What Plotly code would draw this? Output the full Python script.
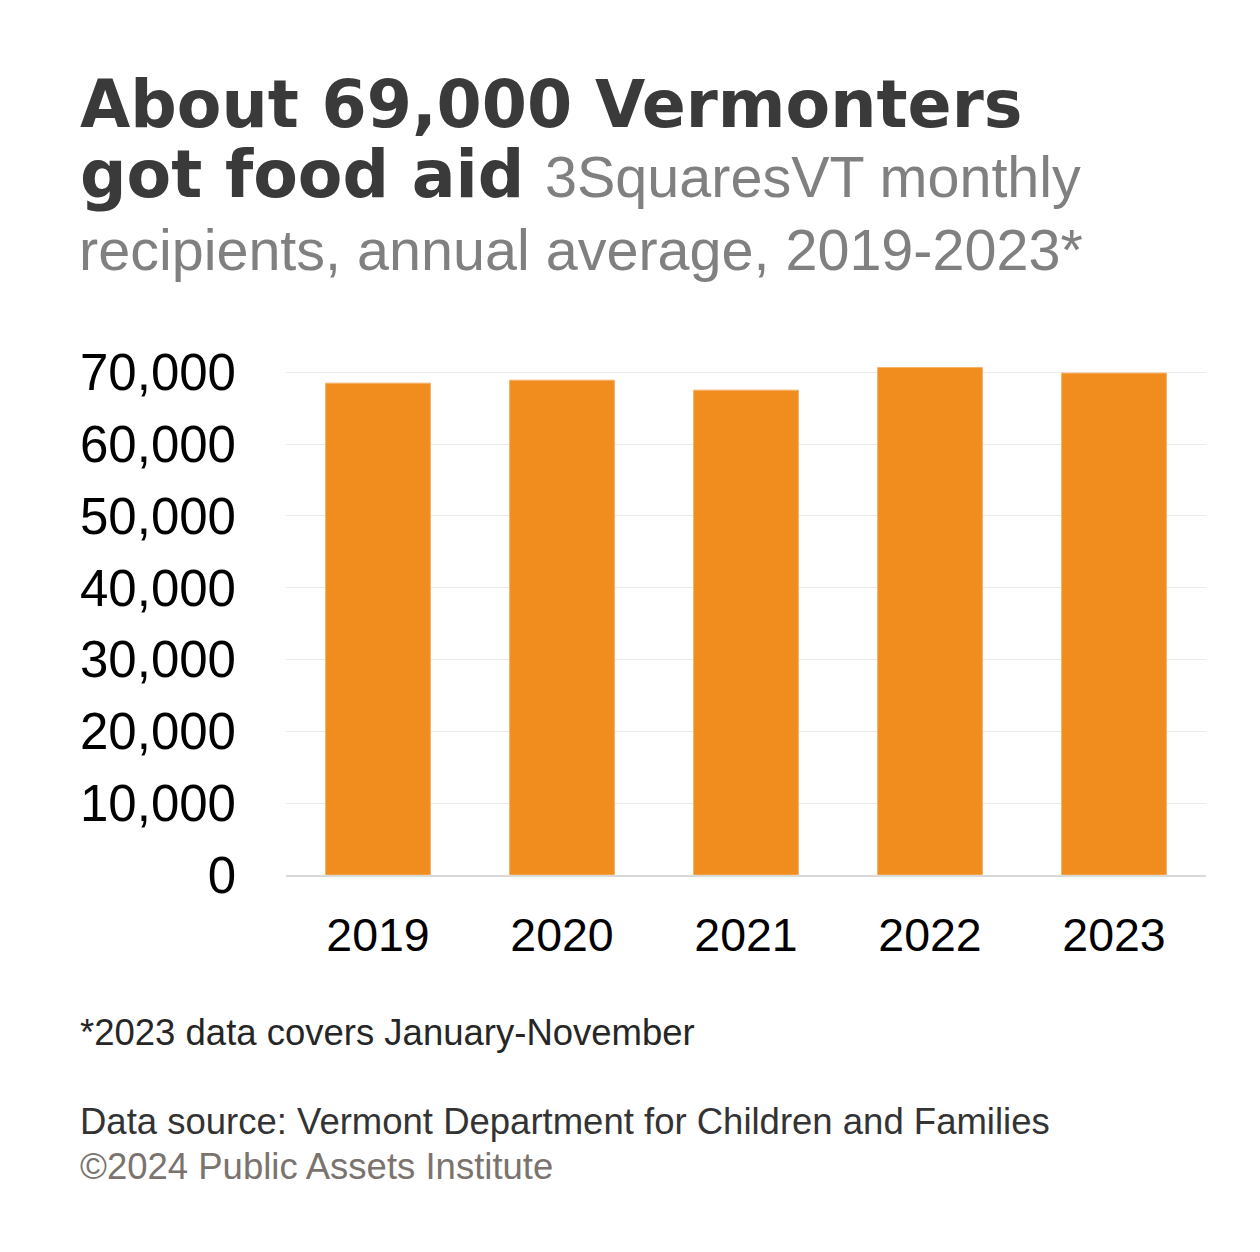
import plotly.graph_objects as go

years = ["2019", "2020", "2021", "2022", "2023"]
recipients = [68470, 68890, 67500, 70650, 69870]
y_ticks = [0, 10000, 20000, 30000, 40000, 50000, 60000, 70000]
y_tick_labels = ["0", "10,000", "20,000", "30,000", "40,000", "50,000", "60,000", "70,000"]

OFF = 8  # page body margin
W, H = 1260 - 2 * OFF, 1252 - 2 * OFF
L, R, T, B = 286 - OFF, 1206 - OFF, 365 - OFF, 875 - OFF

def px(x):
    return (x - OFF - L) / (R - L)

def py(y):
    return (B - (y - OFF)) / (B - T)

fig = go.Figure()
fig.add_trace(go.Bar(
    x=years, y=recipients,
    marker=dict(color="#F18D1F", line=dict(color="#F6B26B", width=1)),
    hoverinfo="x+y",
))

TITLE_FONT = "DejaVu Sans"
BODY_FONT = "Liberation Sans, Arial, sans-serif"

annotations = [
    dict(text="<b>About 69,000 Vermonters</b>", x=px(78), y=py(104), xanchor="left", yanchor="middle",
         font=dict(family=TITLE_FONT, size=65, color="#3a3a3a")),
    dict(text="<b>got food aid</b> <span style='font-family:Liberation Sans, Arial, sans-serif;font-size:57.5px;color:#808080;font-weight:normal'>3SquaresVT monthly</span>",
         x=px(78), y=py(174), xanchor="left", yanchor="middle",
         font=dict(family=TITLE_FONT, size=65, color="#3a3a3a")),
    dict(text="recipients, annual average, 2019-2023*", x=px(77), y=py(250), xanchor="left", yanchor="middle",
         font=dict(family=BODY_FONT, size=57.5, color="#808080")),
    dict(text="*2023 data covers January-November", x=px(78), y=py(1032), xanchor="left", yanchor="middle",
         font=dict(family=BODY_FONT, size=36.5, color="#262626")),
    dict(text="Data source: Vermont Department for Children and Families", x=px(78), y=py(1121), xanchor="left", yanchor="middle",
         font=dict(family=BODY_FONT, size=36.5, color="#333333")),
    dict(text="©2024 Public Assets Institute", x=px(78), y=py(1166), xanchor="left", yanchor="middle",
         font=dict(family=BODY_FONT, size=36.5, color="#7a736e")),
]
for a in annotations:
    a.update(xref="paper", yref="paper", showarrow=False, align="left")

fig.update_layout(
    width=W, height=H,
    margin=dict(l=L, r=W - R, t=T, b=H - B, pad=0),
    paper_bgcolor="white", plot_bgcolor="white",
    showlegend=False,
    bargap=0.43,
    annotations=annotations,
    font=dict(family=BODY_FONT, color="#000000"),
)
fig.update_xaxes(
    type="category", showgrid=False, showline=True, linecolor="#d9d9d9", linewidth=2,
    ticks="", tickfont=dict(family=BODY_FONT, size=46.5, color="#000000"),
    ticklabelstandoff=18,
)
fig.update_yaxes(
    range=[0, 71000], tickvals=y_ticks, ticktext=y_tick_labels,
    showgrid=True, gridcolor="#ebebeb", gridwidth=1, zeroline=False, showline=False,
    ticks="", tickfont=dict(family=BODY_FONT, size=51, color="#000000"),
    ticklabelstandoff=49,
)

fig.write_html("out.html")
